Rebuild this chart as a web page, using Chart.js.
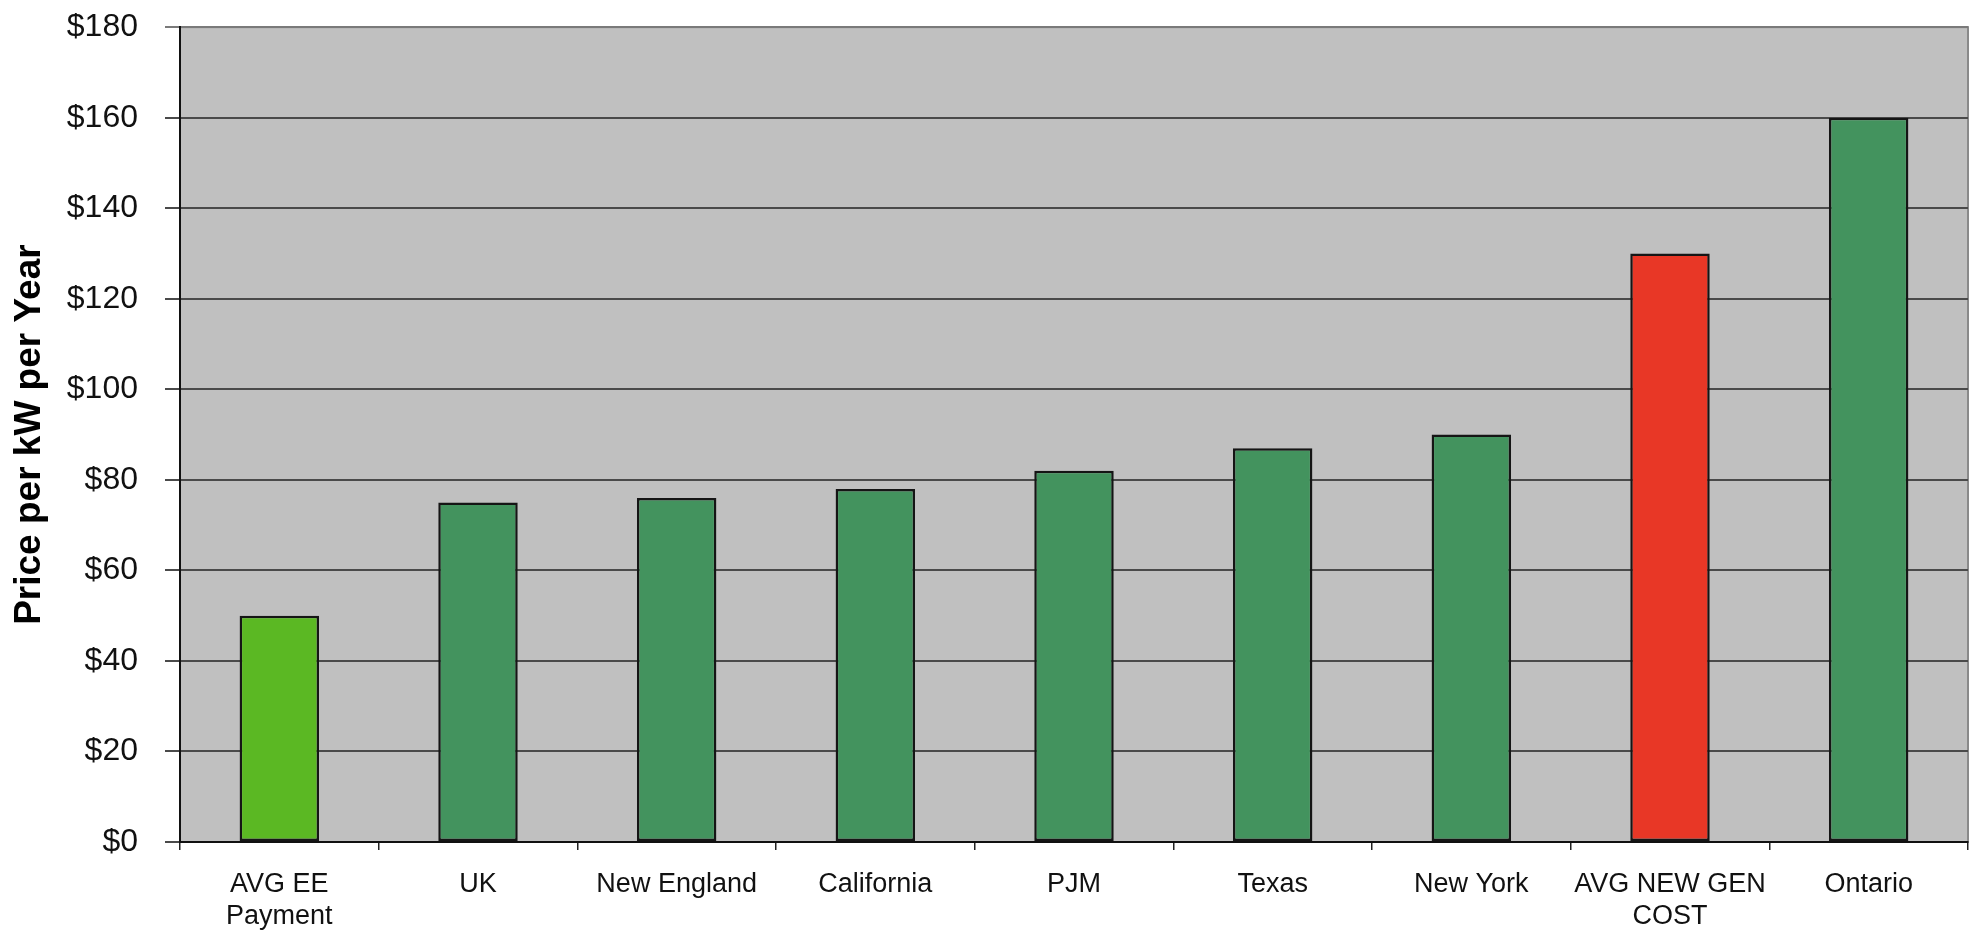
<!DOCTYPE html>
<html>
<head>
<meta charset="utf-8">
<style>
  html, body { margin: 0; padding: 0; background: #ffffff; }
  #wrap { width: 1971px; height: 933px; position: relative; }
</style>
<script src="https://cdn.jsdelivr.net/npm/chart.js@4.4.1/dist/chart.umd.min.js"></script>
</head>
<body>
<div id="wrap"><canvas id="c" width="1971" height="933"></canvas></div>
<script>
const categories = [
  ["AVG EE", "Payment"], "UK", "New England", "California", "PJM",
  "Texas", "New York", ["AVG NEW GEN", "COST"], "Ontario"
];
const prices = [50, 75, 76, 78, 82, 87, 90, 130, 160];
const barColors = ["#5bb823", "#43935e", "#43935e", "#43935e", "#43935e",
                   "#43935e", "#43935e", "#e83726", "#43935e"];
const yTicks = [0, 20, 40, 60, 80, 100, 120, 140, 160, 180];
const yTitle = "Price per kW per Year";

const plotBg = {
  id: 'plotBg',
  beforeDraw(chart) {
    const {ctx, chartArea: a} = chart;
    ctx.save();
    ctx.fillStyle = '#c0c0c0';
    ctx.fillRect(a.left, a.top, a.right - a.left, a.bottom - a.top);
    ctx.strokeStyle = '#8a8a8a';
    ctx.lineWidth = 2;
    ctx.strokeRect(a.left, a.top, a.right - a.left, a.bottom - a.top);
    ctx.restore();
  }
};

new Chart(document.getElementById('c'), {
  type: 'bar',
  data: {
    labels: categories,
    datasets: [{
      data: prices,
      backgroundColor: barColors,
      borderColor: '#151515',
      borderWidth: 2.5,
      borderSkipped: false,
      barPercentage: 0.4,
      categoryPercentage: 1.0
    }]
  },
  options: {
    responsive: false,
    animation: false,
    layout: { padding: { top: 0, right: 3, left: 0, bottom: 0 } },
    plugins: { legend: { display: false }, tooltip: { enabled: false } },
    scales: {
      x: {
        grid: { display: true, drawOnChartArea: false, offset: true, tickLength: 8, color: '#222', lineWidth: 1.5 },
        border: { color: '#111', width: 2 },
        ticks: {
          color: '#111',
          font: { family: 'Liberation Sans, Arial, sans-serif', size: 27, lineHeight: 1.2 },
          padding: 18,
          maxRotation: 0, minRotation: 0, autoSkip: false
        },
        afterFit(scale) { scale.height = 91; }
      },
      y: {
        min: 0, max: 180,
        afterBuildTicks(scale) { scale.ticks = yTicks.map(v => ({ value: v })); },
        grid: {
          color: c => (c.tick && c.tick.value === 180) ? '#7a7a7a' : '#4a4a4a',
          lineWidth: 2, tickLength: 15, drawTicks: true
        },
        border: { color: '#111', width: 2 },
        ticks: {
          color: '#111',
          font: { family: 'Liberation Sans, Arial, sans-serif', size: 32, lineHeight: 0.01 },
          padding: 27,
          callback: v => '$' + v
        },
        title: {
          display: true,
          text: yTitle,
          color: '#000',
          font: { family: 'Liberation Sans, Arial, sans-serif', size: 37, weight: 'bold', lineHeight: 1.2 },
          padding: { top: 8, bottom: 13 }
        },
        afterFit(scale) { scale.width = 180; }
      }
    }
  },
  plugins: [plotBg]
});
</script>
</body>
</html>
